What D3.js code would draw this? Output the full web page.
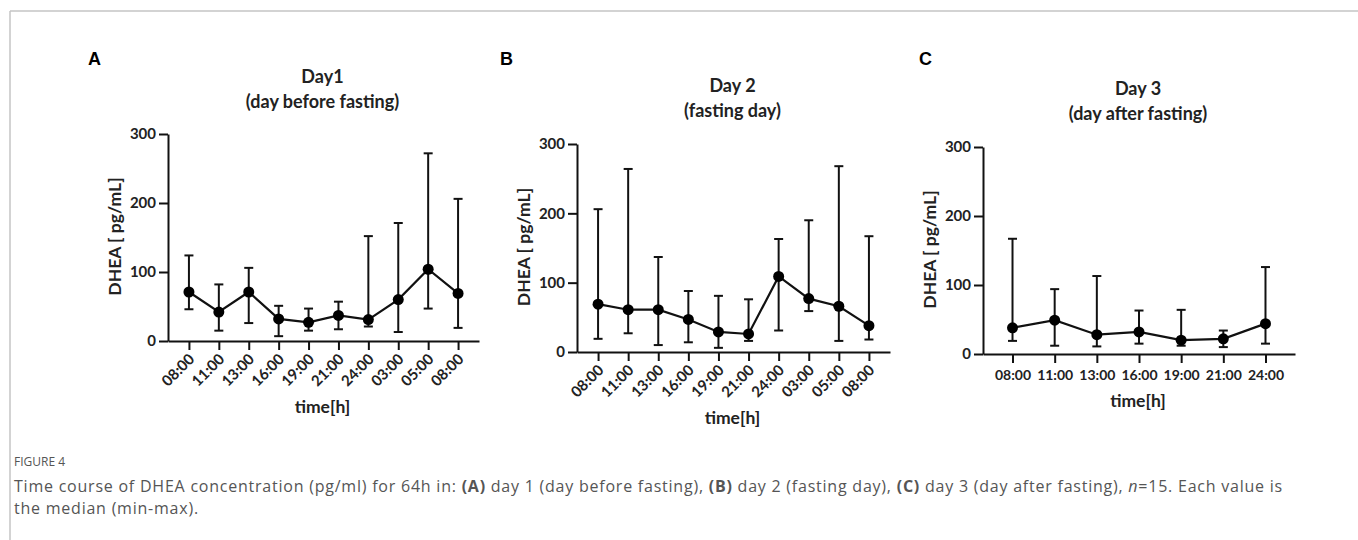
<!DOCTYPE html>
<meta charset="utf-8">
<style>
body { margin: 0; background: #fff; }
svg { display: block; }
.axis path, .axis line { stroke: #111; stroke-width: 2px; }
.axis text { font-family: Lato, "Open Sans", sans-serif; font-weight: bold; font-size: 15px; fill: #222; }
.axis.flat text { font-size: 14px; }
.ttl { font-family: Lato, "Open Sans", sans-serif; font-weight: bold; font-size: 18px; fill: #222; text-anchor: middle; }
.lab { font-family: Lato, "Open Sans", sans-serif; font-weight: bold; font-size: 17.5px; fill: #222; text-anchor: middle; }
.letter { font-family: "Liberation Sans", Arial, sans-serif; font-weight: bold; font-size: 18px; fill: #000; }
.cap { font-family: "Open Sans", Lato, sans-serif; fill: #555; }
</style>
<svg width="1358" height="540"></svg>
<script src="https://d3js.org/d3.v7.min.js"></script>
<script>

// time points
var timesAB = ["08:00", "11:00", "13:00", "16:00", "19:00", "21:00", "24:00", "03:00", "05:00", "08:00"];
var timesC = ["08:00", "11:00", "13:00", "16:00", "19:00", "21:00", "24:00"];
var yTicks = [0, 100, 200, 300];

// DHEA pg/mL, median (min-max)
var day1Median = [71, 42, 71, 32, 27, 37, 31, 60, 104, 69];
var day1Min    = [46, 15, 26, 7, 15, 17, 21, 13, 47, 19];
var day1Max    = [124, 82, 106, 51, 47, 57, 152, 171, 272, 206];

var day2Median = [69, 61, 61, 47, 29, 26, 109, 77, 66, 38];
var day2Min    = [19, 27, 10, 14, 6, 16, 31, 59, 16, 18];
var day2Max    = [206, 264, 137, 88, 81, 76, 163, 190, 268, 167];

var day3Median = [38, 49, 28, 32, 20, 22, 44];
var day3Min    = [19, 12, 11, 15, 12, 10, 15];
var day3Max    = [167, 94, 113, 63, 64, 34, 126];

var svg = d3.select("svg");

// page frame
svg.append("line").attr("x1", 10).attr("x2", 1358).attr("y1", 11).attr("y2", 11)
    .attr("stroke", "#c4c4c4").attr("stroke-width", 1.5);
svg.append("line").attr("x1", 10).attr("x2", 10).attr("y1", 11).attr("y2", 540)
    .attr("stroke", "#c4c4c4").attr("stroke-width", 1.5);

var panels = [
  {letter: "A", lx: 88, title: ["Day1", "(day before fasting)"], ty: 83,
   x0: 168, x1: 479, yTop: 134, yBot: 341, rot: true, xlab: 413,
   times: timesAB, med: day1Median, lo: day1Min, hi: day1Max},
  {letter: "B", lx: 500, title: ["Day 2", "(fasting day)"], ty: 92,
   x0: 577, x1: 890, yTop: 144, yBot: 352, rot: true, xlab: 424,
   times: timesAB, med: day2Median, lo: day2Min, hi: day2Max},
  {letter: "C", lx: 919, title: ["Day 3", "(day after fasting)"], ty: 95,
   x0: 983, x1: 1295, yTop: 147, yBot: 354, rot: false, xlab: 407,
   times: timesC, med: day3Median, lo: day3Min, hi: day3Max}
];

panels.forEach(function(p) {
  var g = svg.append("g");
  var idx = d3.range(p.times.length);

  var x = d3.scalePoint().domain(idx).range([p.x0, p.x1]).padding(0.7);
  var y = d3.scaleLinear().domain([0, 300]).range([p.yBot, p.yTop]);

  g.append("text").attr("class", "letter").attr("x", p.lx).attr("y", 65).text(p.letter);

  var cx = (p.x0 + p.x1) / 2 - 1;
  g.append("text").attr("class", "ttl").attr("x", cx).attr("y", p.ty).text(p.title[0]);
  g.append("text").attr("class", "ttl").attr("x", cx).attr("y", p.ty + 25).text(p.title[1]);

  // y axis
  g.append("g").attr("class", "axis")
      .attr("transform", "translate(" + p.x0 + ",0)")
      .call(d3.axisLeft(y).tickValues(yTicks).tickSize(9).tickSizeOuter(0).tickPadding(3));

  // x axis
  var xa = g.append("g").attr("class", p.rot ? "axis" : "axis flat")
      .attr("transform", "translate(0," + p.yBot + ")")
      .call(d3.axisBottom(x).tickSize(9).tickSizeOuter(0)
          .tickFormat(function(i) { return p.times[i]; }));
  if (p.rot) {
    xa.selectAll(".tick text")
        .attr("text-anchor", "end")
        .attr("dy", null)
        .attr("transform", "translate(6,19) rotate(-45)")
        .attr("y", 0).attr("x", 0);
  } else {
    xa.selectAll(".tick text").attr("y", 16);
  }

  // axis titles
  g.append("text").attr("class", "lab")
      .attr("transform", "translate(" + (p.x0 - 47) + "," + ((p.yTop + p.yBot) / 2 - 1) + ") rotate(-90)")
      .text("DHEA [ pg/mL]");
  g.append("text").attr("class", "lab").attr("x", cx).attr("y", p.xlab).text("time[h]");

  // error bars (min-max)
  var eb = g.append("g").attr("stroke", "#111").attr("stroke-width", 2);
  eb.selectAll(".whisk").data(idx).enter().append("line")
      .attr("x1", function(i) { return x(i); }).attr("x2", function(i) { return x(i); })
      .attr("y1", function(i) { return y(p.lo[i]); }).attr("y2", function(i) { return y(p.hi[i]); });
  eb.selectAll(".capHi").data(idx).enter().append("line")
      .attr("x1", function(i) { return x(i) - 4.5; }).attr("x2", function(i) { return x(i) + 4.5; })
      .attr("y1", function(i) { return y(p.hi[i]); }).attr("y2", function(i) { return y(p.hi[i]); });
  eb.selectAll(".capLo").data(idx).enter().append("line")
      .attr("x1", function(i) { return x(i) - 4.5; }).attr("x2", function(i) { return x(i) + 4.5; })
      .attr("y1", function(i) { return y(p.lo[i]); }).attr("y2", function(i) { return y(p.lo[i]); });

  // median line + dots
  var line = d3.line().x(function(i) { return x(i); }).y(function(i) { return y(p.med[i]); });
  g.append("path").datum(idx).attr("d", line)
      .attr("fill", "none").attr("stroke", "#111").attr("stroke-width", 2.2);
  g.selectAll(".dot").data(idx).enter().append("circle")
      .attr("cx", function(i) { return x(i); }).attr("cy", function(i) { return y(p.med[i]); })
      .attr("r", 5.5).attr("fill", "#000");
});

// caption
svg.append("text").attr("class", "cap").attr("x", 14).attr("y", 466)
    .attr("font-size", 12).attr("fill", "#666").text("FIGURE 4");

var cap1 = svg.append("text").attr("class", "cap").attr("x", 14).attr("y", 492).attr("font-size", 16);
cap1.append("tspan").text("Time course of DHEA concentration (pg/ml) for 64h in: ");
cap1.append("tspan").attr("font-weight", "bold").text("(A)");
cap1.append("tspan").text(" day 1 (day before fasting), ");
cap1.append("tspan").attr("font-weight", "bold").text("(B)");
cap1.append("tspan").text(" day 2 (fasting day), ");
cap1.append("tspan").attr("font-weight", "bold").text("(C)");
cap1.append("tspan").text(" day 3 (day after fasting), ");
cap1.append("tspan").attr("font-style", "italic").text("n");
cap1.append("tspan").text("=15. Each value is");

var cap2 = svg.append("text").attr("class", "cap").attr("x", 14).attr("y", 514).attr("font-size", 16)
    .text("the median (min-max).");

// stretch the caption to the width of the original line
var len = cap1.node().getComputedTextLength();
var nch = cap1.text().length;
var ls = Math.max(0, (1269 - len) / nch);
cap1.attr("letter-spacing", ls);
cap2.attr("letter-spacing", ls);

</script>
